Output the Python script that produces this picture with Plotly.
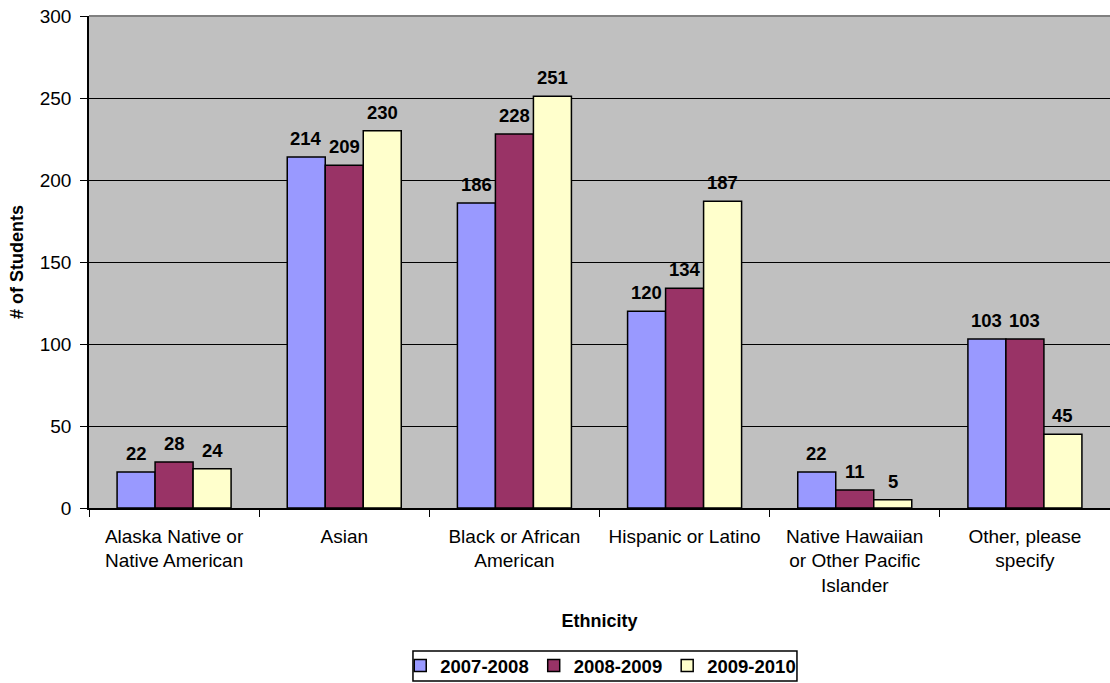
import plotly.graph_objects as go

categories = ["Alaska Native or<br>Native American", "Asian", "Black or African<br>American",
              "Hispanic or Latino", "Native Hawaiian<br>or Other Pacific<br>Islander",
              "Other, please<br>specify"]
series_names = ["2007-2008", "2008-2009", "2009-2010"]
v_2007 = [22, 214, 186, 120, 22, 103]
v_2008 = [28, 209, 228, 134, 11, 103]
v_2009 = [24, 230, 251, 187, 5, 45]
colors = ["#9999FF", "#993366", "#FFFFCC"]

FONT = "Liberation Sans, Arial, sans-serif"
BAR_PX = 38  # approximate pixel width of one bar, used to centre value labels

fig = go.Figure()
all_vals = [v_2007, v_2008, v_2009]
for name, vals, c in zip(series_names, all_vals, colors):
    fig.add_trace(go.Bar(
        x=categories, y=vals, name=name,
        marker=dict(color=c, line=dict(color="black", width=1.5)),
    ))

# value labels above bars
for i, vals in enumerate(all_vals):
    for cat, v in zip(categories, vals):
        fig.add_annotation(
            x=cat, y=v, text=f"<b>{v}</b>", showarrow=False,
            xref="x", yref="y", xanchor="center", yanchor="bottom",
            xshift=(i - 1) * BAR_PX, yshift=6,
            font=dict(family=FONT, size=18.5, color="black"),
        )

fig.update_layout(
    barmode="group", bargap=0.33, bargroupgap=0,
    width=1110, height=683,
    margin=dict(l=89, r=0, t=16, b=175, autoexpand=False),
    plot_bgcolor="#C0C0C0", paper_bgcolor="white",
    font=dict(family=FONT, size=19, color="black"),
    showlegend=True,
    legend=dict(orientation="h", x=0.5012, xanchor="center", y=-0.2825, yanchor="top",
                borderwidth=0, bgcolor="rgba(0,0,0,0)",
                font=dict(family=FONT, size=18.5, color="black", weight="bold"),
                itemwidth=30, traceorder="normal"),
)
fig.update_xaxes(
    type="category", tickson="boundaries", ticks="outside", ticklen=7, tickcolor="black",
    showline=True, linecolor="black", linewidth=1.5, showgrid=False,
    ticklabelstandoff=10, automargin=False,
    tickfont=dict(family=FONT, size=19, color="black"),
    title=dict(text="Ethnicity", font=dict(family=FONT, size=18, color="black", weight="bold"), standoff=19),
)
fig.update_yaxes(
    range=[0, 300], dtick=50, ticks="outside", ticklen=7, tickcolor="black",
    showline=True, linecolor="black", linewidth=1.5,
    showgrid=True, gridcolor="black", gridwidth=1, zeroline=False,
    ticklabelstandoff=5, automargin=False,
    tickfont=dict(family=FONT, size=19, color="black"),
    title=dict(text="# of Students", font=dict(family=FONT, size=18, color="black", weight="bold"), standoff=11),
)
fig.add_shape(type="line", xref="paper", yref="paper", x0=0, x1=1, y0=1, y1=1,
              line=dict(color="#808080", width=2))
# legend frame
fig.add_shape(type="rect", xref="paper", yref="paper",
              x0=0.3173, x1=0.6934, y0=-0.2907, y1=-0.3516,
              line=dict(color="black", width=1.5), fillcolor="rgba(0,0,0,0)")
fig.write_html("out.html")
